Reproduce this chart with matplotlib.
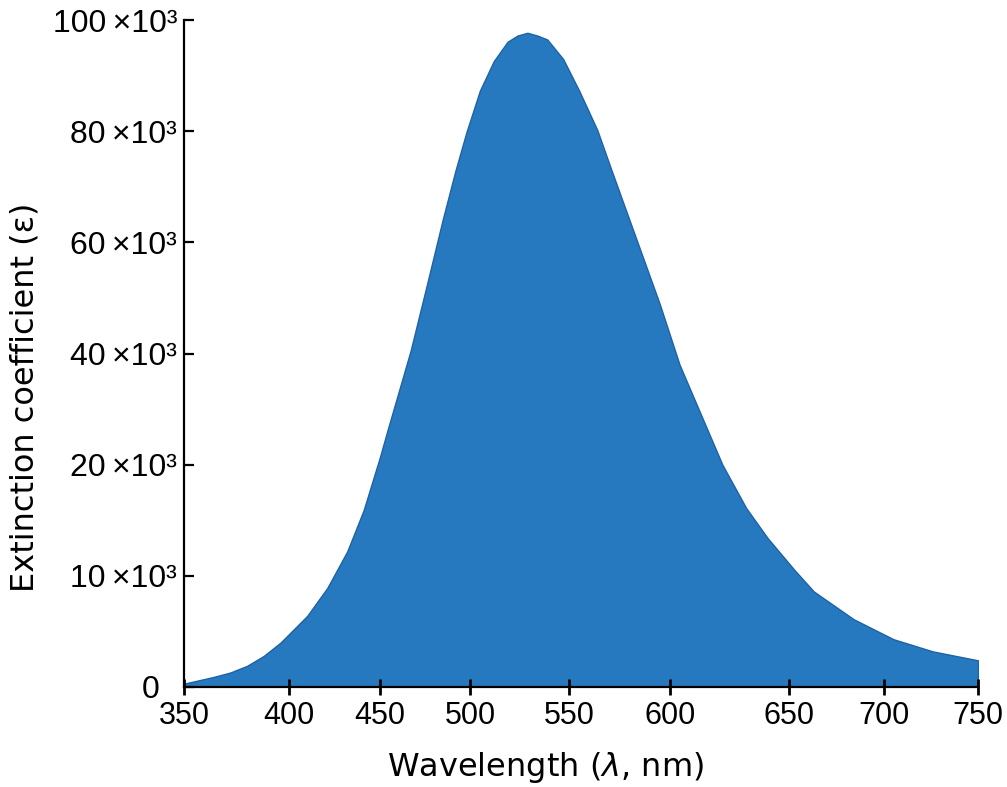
import numpy as np
import matplotlib
matplotlib.use("Agg")
import matplotlib.pyplot as plt

# Absorption band (wavelength in nm, epsilon in 10^3)
wavelength = [350, 364, 372, 380, 388, 396, 410, 421, 432, 441, 450, 454, 467,
              476, 485, 492, 498, 505, 512, 519, 524, 529, 534, 539, 547, 555,
              564, 571, 585, 595, 604, 613, 622, 632, 641, 653, 663, 684, 705,
              726, 750]
epsilon_k = [0.3, 0.9, 1.3, 1.9, 2.8, 4.0, 6.4, 8.9, 12.2, 15.9, 21.4, 26.0, 40.5,
             52.3, 64.3, 73.0, 79.8, 87.3, 92.6, 96.1, 97.2, 97.7, 97.2, 96.5, 93.0, 87.3,
             80.2, 73.0, 58.9, 48.8, 38.0, 29.0, 20.0, 16.1, 13.4, 10.5, 8.6, 6.1, 4.3,
             3.2, 2.4]

x_ticks = [350, 400, 450, 500, 550, 600, 650, 700, 750]
y_ticks_k = [0, 10, 20, 40, 60, 80, 100]
y_tick_labels = ["0  "] + [f"{v}\u2009\u00d710\u00b3" for v in y_ticks_k[1:]]

x = np.array(wavelength, dtype=float)
y = np.array(epsilon_k) * 1000.0

# the original axes are not linear: tick marks sit at these spots
x_knots = np.array([0, 105, 196, 286, 385, 486, 605, 700, 794], dtype=float)
y_knots = np.arange(len(y_ticks_k), dtype=float)
y_vals = np.array(y_ticks_k) * 1000.0

def fx(v):
    return np.interp(v, x_ticks, x_knots)

def fx_inv(p):
    return np.interp(p, x_knots, x_ticks)

def fy(v):
    return np.interp(v, y_vals, y_knots)

def fy_inv(p):
    return np.interp(p, y_knots, y_vals)

plt.rcParams['font.family'] = ['Liberation Sans', 'DejaVu Sans']

fig = plt.figure(figsize=(10.07, 7.87), dpi=100)
ax = fig.add_axes([184 / 1007, 1 - 687 / 787, 794 / 1007, 667 / 787])

ax.set_xscale('function', functions=(fx, fx_inv))
ax.set_yscale('function', functions=(fy, fy_inv))

ax.fill_between(x, y, 0, facecolor='#2779bf', edgecolor='#1d62a6', linewidth=1.0)

ax.set_xlim(350, 750)
ax.set_ylim(0, 100000)
ax.set_xticks(x_ticks)
ax.set_xticklabels([str(t) for t in x_ticks])
ax.set_yticks(y_vals)
ax.set_yticklabels(y_tick_labels)
ax.minorticks_off()

for side in ['top', 'right']:
    ax.spines[side].set_visible(False)
for side in ['left', 'bottom']:
    ax.spines[side].set_linewidth(1.6)
    ax.spines[side].set_color('black')

ax.tick_params(axis='y', direction='in', length=7, width=1.6, pad=5, labelsize=23)
ax.tick_params(axis='x', direction='inout', length=12, width=2.0, pad=4, labelsize=22)

ax.set_xlabel(r'Wavelength ($\lambda$, nm)', fontsize=23, family='DejaVu Sans')
ax.set_ylabel('Extinction coefficient (\u03b5)', fontsize=23, family='DejaVu Sans')
ax.xaxis.set_label_coords(0.455, -0.094)
ax.yaxis.set_label_coords(-0.181, 0.435)

fig.savefig('out.png', dpi=100)
